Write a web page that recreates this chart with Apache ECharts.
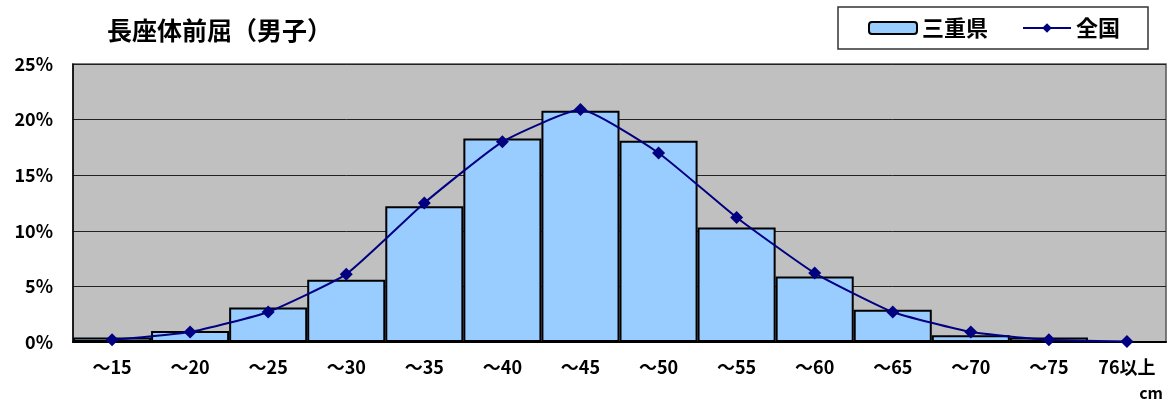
<!DOCTYPE html>
<html>
<head>
<meta charset="utf-8">
<script src="https://cdn.jsdelivr.net/npm/echarts@6/dist/echarts.min.js"></script>
<style>
  html, body { margin: 0; padding: 0; background: #fff; }
  #chart { width: 1169px; height: 405px; }
</style>
</head>
<body>
<div id="chart"></div>
<script>
const categories = ['～15', '～20', '～25', '～30', '～35', '～40', '～45', '～50', '～55', '～60', '～65', '～70', '～75', '76以上']
const mieValues = [0.4, 1.0, 3.1, 5.6, 12.2, 18.3, 20.8, 18.1, 10.3, 5.9, 2.9, 0.6, 0.4, 0]
const nationalValues = [0.2, 0.9, 2.7, 6.1, 12.5, 18.0, 20.9, 17.0, 11.2, 6.2, 2.7, 0.9, 0.2, 0.05]

const font = '"Noto Sans CJK JP", sans-serif'
const chart = echarts.init(document.getElementById('chart'))

chart.setOption({
  animation: false,
  title: {
    text: '長座体前屈（男子）',
    left: 102,
    top: 13,
    textStyle: { fontFamily: font, fontSize: 25, fontWeight: 'bold', color: '#000' }
  },
  legend: {
    left: 838,
    top: 7,
    padding: [10, 28, 10, 30],
    itemGap: 34,
    borderColor: '#333',
    borderWidth: 1.5,
    itemWidth: 48,
    itemHeight: 12,
    textStyle: { fontFamily: font, fontSize: 22, fontWeight: 'bold', color: '#000' },
    data: ['三重県', '全国']
  },
  grid: {
    left: 73, right: 3, top: 64, bottom: 63,
    show: true,
    backgroundColor: '#c0c0c0',
    borderColor: '#555',
    borderWidth: 1.5
  },
  graphic: [{
    type: 'text',
    right: 6,
    top: 385,
    style: { text: 'cm', font: 'bold 16px ' + font, fill: '#000' }
  }],
  xAxis: {
    type: 'category',
    data: categories,
    axisLine: { lineStyle: { color: '#000', width: 2 } },
    axisTick: { show: false },
    axisLabel: { fontFamily: font, fontSize: 18, fontWeight: 'bold', color: '#000', margin: 16 }
  },
  yAxis: {
    type: 'value',
    min: 0,
    max: 25,
    interval: 5,
    axisLine: { show: true, lineStyle: { color: '#000', width: 1.5 } },
    axisTick: { show: false },
    axisLabel: {
      fontFamily: font, fontSize: 18, fontWeight: 'bold', color: '#000', margin: 20,
      formatter: '{value}%'
    },
    splitLine: { lineStyle: { color: '#222', width: 1 } }
  },
  series: [
    {
      name: '三重県',
      type: 'bar',
      data: mieValues,
      barCategoryGap: '0%',
      itemStyle: { color: '#99ccff', borderColor: '#000', borderWidth: 2 }
    },
    {
      name: '全国',
      type: 'line',
      data: nationalValues,
      smooth: 0.15,
      symbol: 'diamond',
      symbolSize: 13,
      lineStyle: { color: '#000080', width: 2 },
      itemStyle: { color: '#000080' }
    }
  ]
})
</script>
</body>
</html>
